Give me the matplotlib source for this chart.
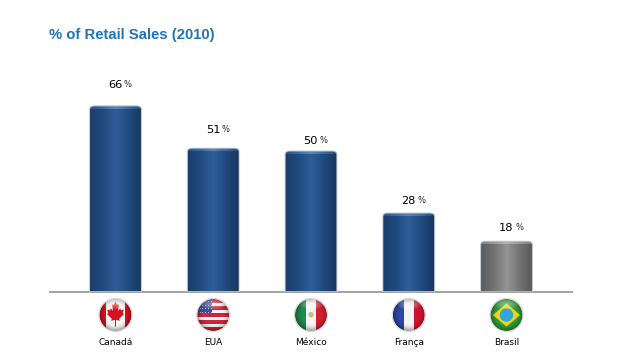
import numpy as np
import matplotlib
matplotlib.use("Agg")
import matplotlib.pyplot as plt
from matplotlib.colors import LinearSegmentedColormap
from matplotlib.patches import Circle, Polygon, PathPatch, Rectangle
from matplotlib.path import Path

countries = ["Canadá", "EUA", "México", "França", "Brasil"]
values = [66, 51, 50, 28, 18]
title = "% of Retail Sales (2010)"

W, H = 631, 362
plt.rcParams["font.family"] = ["DejaVu Sans"]
fig = plt.figure(figsize=(W / 100, H / 100), dpi=100, facecolor="white")

L, R, T, B = 50, 572, 60, 292
ax = fig.add_axes([L / W, 1 - B / H, (R - L) / W, (B - T) / H])
ax.set_xlim(-0.67, 4.67)
ax.set_ylim(0, (B - T) / 2.82)
ax.patch.set_alpha(0)
for s in ("top", "left", "right"):
    ax.spines[s].set_visible(False)
ax.spines["bottom"].set_color("#a3a3a3")
ax.spines["bottom"].set_linewidth(1.4)
ax.set_yticks([])
ax.set_xticks(range(len(countries)))
ax.set_xticklabels(countries, fontsize=6.5, color="#000000")
ax.tick_params(axis="x", length=0, pad=33)

blue = LinearSegmentedColormap.from_list("b", ["#1a3d6a", "#1f4a7f", "#2f5f98", "#1f4a7f", "#173660"])
gray = LinearSegmentedColormap.from_list("g", ["#5c5c5c", "#737373", "#959595", "#737373", "#565656"])
cap_blue = LinearSegmentedColormap.from_list("cb", ["#2a5382", "#3f6ca0", "#5c86b5", "#3f6ca0", "#264c78"])
cap_gray = LinearSegmentedColormap.from_list("cg", ["#808080", "#9a9a9a", "#b4b4b4", "#9a9a9a", "#7c7c7c"])
grad = np.linspace(0, 1, 128)[None, :]

bars = ax.bar(range(len(values)), values, width=0.53, color="none", edgecolor="none")
# per-label pixel offsets above the bar tops, as placed in the reference
gaps = [21, 18, 10, 12, 13]
px_x = (4.67 + 0.67) / (R - L)
px_y = 1 / 2.82
for i, (bar, v) in enumerate(zip(bars, values)):
    x0, x1 = bar.get_x(), bar.get_x() + bar.get_width()
    rx, ry = 5 * px_x, 3.5 * px_y
    verts = [(x0, 0), (x0, v - ry), (x0, v), (x0 + rx, v), (x1 - rx, v), (x1, v), (x1, v - ry), (x1, 0), (x0, 0)]
    codes = [Path.MOVETO, Path.LINETO, Path.CURVE3, Path.CURVE3, Path.LINETO, Path.CURVE3, Path.CURVE3, Path.LINETO, Path.CLOSEPOLY]
    path = Path(verts, codes)
    cm = gray if i == 4 else blue
    cap = cap_gray if i == 4 else cap_blue
    patch = PathPatch(path, facecolor="none", edgecolor="#c2c8d0", lw=0.7, zorder=3)
    ax.add_patch(patch)
    im = ax.imshow(grad, extent=(x0, x1, 0, v), aspect="auto", cmap=cm, zorder=2, interpolation="bilinear")
    im.set_clip_path(PathPatch(path, transform=ax.transData))
    im2 = ax.imshow(grad, extent=(x0, x1, v - 3 * px_y, v), aspect="auto", cmap=cap, zorder=2.5, interpolation="bilinear")
    im2.set_clip_path(PathPatch(path, transform=ax.transData))
    ax.annotate(str(v), (i, v), xytext=(7, gaps[i]), textcoords="offset pixels",
                ha="right", va="center", fontsize=8.2, color="#000000", annotation_clip=False)
    ax.annotate("%", (i, v), xytext=(8.5, gaps[i] + 0.5), textcoords="offset pixels",
                ha="left", va="center", fontsize=6, color="#222222", annotation_clip=False)
ax.set_xlim(-0.67, 4.67)
ax.set_ylim(0, (B - T) / 2.82)

fig.text(49 / W, 1 - 35 / H, title, fontsize=10.75, fontweight="bold", color="#1f75b5",
         family="Liberation Sans", ha="left", va="center")

# flags
def flag_axes(i):
    cx = L + (i + 0.67) / (4.67 + 0.67) * (R - L)
    r = 17.5
    a = fig.add_axes([(cx - r) / W, 1 - (315 + r) / H, 2 * r / W, 2 * r / H])
    a.set_xlim(-1.09, 1.09)
    a.set_ylim(-1.09, 1.09)
    a.axis("off")
    return a

def clip(a, artist):
    artist.set_clip_path(Circle((0, 0), 1, transform=a.transData))
    return artist

def rect(a, x, y, w, h, c, z=1):
    clip(a, a.add_patch(Rectangle((x, y), w, h, color=c, lw=0, zorder=z)))

def finish(a):
    a.add_patch(Circle((0, 0), 1.03, fc="none", ec="#d8d8d8", lw=0.9, zorder=8))
    yy, xx = np.mgrid[-1:1:80j, -1:1:80j]
    dark = np.clip(np.hypot(xx, yy) - 0.55, 0, 1) / 0.45
    rgba = np.zeros((80, 80, 4))
    rgba[..., 3] = 0.38 * dark ** 2
    im = a.imshow(rgba, extent=(-1, 1, -1, 1), origin="lower", zorder=6, aspect="auto")
    clip(a, im)
    light = np.clip(1 - np.hypot(xx / 0.8, (yy - 0.66) / 0.36), 0, 1)
    rgba2 = np.ones((80, 80, 4))
    rgba2[..., 3] = 0.42 * light ** 0.7
    im2 = a.imshow(rgba2, extent=(-1, 1, -1, 1), origin="lower", zorder=7, aspect="auto")
    clip(a, im2)
    a.set_xlim(-1.09, 1.09)
    a.set_ylim(-1.09, 1.09)

# Canada
a = flag_axes(0)
rect(a, -1, -1, 2, 2, "#f6f6f6")
rect(a, -1, -1, 0.42, 2, "#d8121c", 2)
rect(a, 0.58, -1, 0.42, 2, "#d8121c", 2)
leaf = np.array([(0, .62), (.11, .42), (.2, .48), (.15, .12), (.28, .26), (.33, .16), (.5, .2), (.43, .02), (.5, -.04),
        (.22, -.28), (.26, -.38), (.03, -.34), (.03, -.68), (-.03, -.68), (-.03, -.34), (-.26, -.38), (-.22, -.28),
        (-.5, -.04), (-.43, .02), (-.5, .2), (-.33, .16), (-.28, .26), (-.15, .12), (-.2, .48), (-.11, .42)])
a.add_patch(Polygon(leaf * [1.05, 1.2] + [0, 0.1], closed=True, color="#d8121c", lw=0, zorder=3))
finish(a)

# USA
a = flag_axes(1)
rect(a, -1, -1, 2, 2, "#f5f5f5")
edges = np.linspace(1, -1, 10)
for k in range(0, 9, 2):
    rect(a, -1, edges[k + 1], 2, edges[k] - edges[k + 1], "#c8283c", 2)
rect(a, -1, edges[4], 0.95, 1 - edges[4], "#3f4f9a", 3)
sx, sy = np.meshgrid(np.linspace(-.85, -.15, 5), np.linspace(.2, .85, 4))
clip(a, a.scatter(sx.ravel(), sy.ravel(), s=0.6, color="#c8cfe8", lw=0, zorder=4))
finish(a)

# Mexico
a = flag_axes(2)
rect(a, -1, -1, 2, 2, "#f4f4f4")
rect(a, -1, -1, 0.68, 2, "#1f8a4c", 2)
rect(a, 0.33, -1, 0.67, 2, "#cf1f30", 2)
a.add_patch(Circle((0, 0.02), 0.17, color="#c8bf78", lw=0, zorder=3))
finish(a)

# France
a = flag_axes(3)
rect(a, -1, -1, 2, 2, "#f4f4f4")
rect(a, -1, -1, 0.68, 2, "#2c4aa5", 2)
rect(a, 0.33, -1, 0.67, 2, "#cf1030", 2)
finish(a)

# Brazil
a = flag_axes(4)
rect(a, -1, -1, 2, 2, "#2f9a3a")
a.add_patch(Polygon([(-.85, 0), (0, .72), (.85, 0), (0, -.72)], closed=True, color="#f2d417", lw=0, zorder=2))
a.add_patch(Circle((0, 0), 0.42, color="#35a5dc", lw=0, zorder=3))
finish(a)

fig.savefig("out.png", dpi=100, facecolor="white")
